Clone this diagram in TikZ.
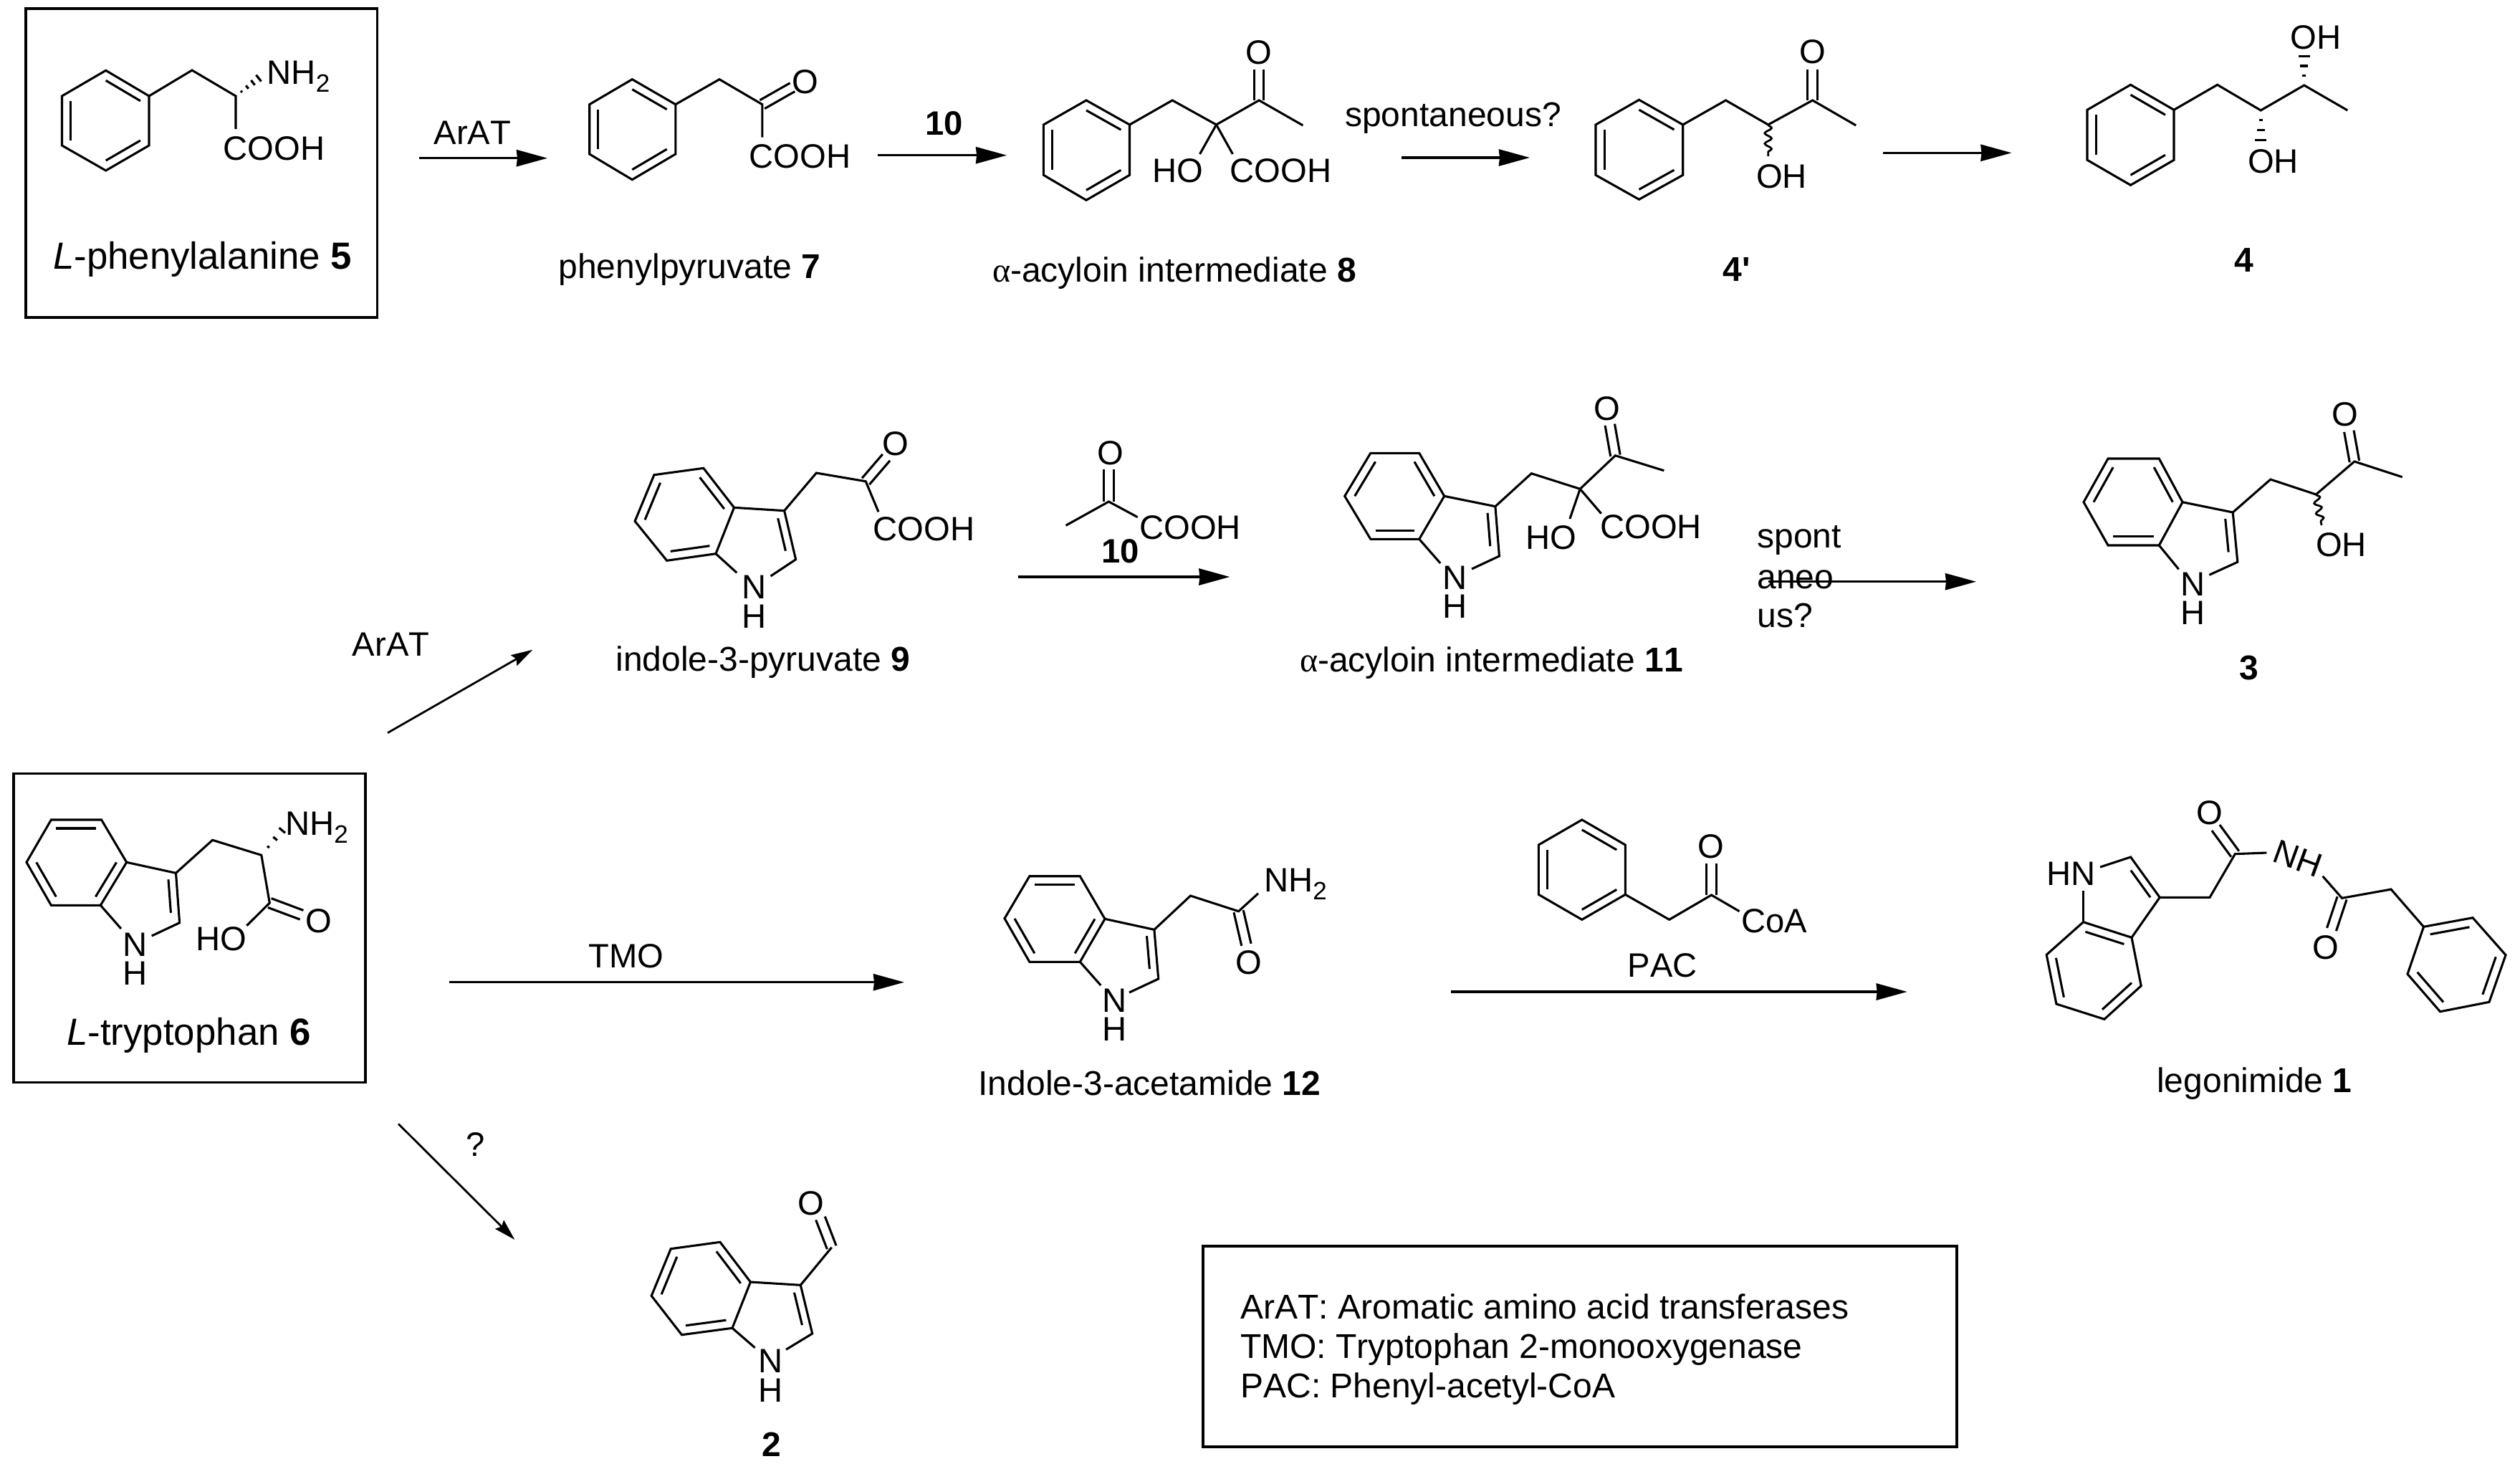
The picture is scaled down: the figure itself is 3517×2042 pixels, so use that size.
\documentclass[tikz,border=0pt]{standalone}
\usepackage{fontspec}
\setmainfont{Liberation Sans}[Ligatures=TeXOff,Kerning=Off]
\newfontfamily\grk{Liberation Serif}
\usetikzlibrary{arrows.meta,calc,decorations.pathmorphing}
\tikzset{
  bond/.style={line width=1.55pt,line join=miter,line cap=butt},
  hashtick/.style={line width=1.6pt},
  wavy/.style={line width=1.4pt,decorate,decoration={snake,segment length=7.3pt,amplitude=2.4pt}},
  framebox/.style={line width=1.6pt},
  rxn/.style={line width=1.7pt,-{Stealth[length=21.5pt,width=11.5pt,inset=.5pt]}},
  rxnthin/.style={line width=1.4pt,-{Stealth[length=15pt,width=8.5pt,inset=2pt]}},
  txt/.style={anchor=base west,inner sep=0pt,outer sep=0pt,xshift=-1.2pt,text=black},
  atom/.style={txt,font=\fontsize{23.6pt}{26pt}\selectfont},
  lab/.style={txt,yshift=-.75pt,font=\fontsize{24pt}{26pt}\selectfont},
  biglab/.style={txt,font=\fontsize{26.4pt}{28pt}\selectfont},
}
\newcommand{\tx}[4]{\node[#2] (#1) at (#3) {#4};}
\newcommand{\subtwo}{\raisebox{-5.5pt}{\fontsize{17.5pt}{18pt}\selectfont 2}}
\newcommand{\gra}{{\grk α}}
% double bond, symmetric
\newcommand{\dbond}[2]{%
  \draw[bond] ($(#1)!3.4pt!90:(#2)$) -- ($(#2)!3.4pt!-90:(#1)$);
  \draw[bond] ($(#1)!3.4pt!-90:(#2)$) -- ($(#2)!3.4pt!90:(#1)$);}
% inner ring line
\newcommand{\ringin}[3]{\draw[bond] ($(#1)!.2!(#3)$) -- ($(#2)!.2!(#3)$);}
% phenyl ring a..f with double bonds ab, cd, ef
\newcommand{\phenyl}[6]{%
  \coordinate (pa) at (#1);\coordinate (pb) at (#2);\coordinate (pc) at (#3);
  \coordinate (pd) at (#4);\coordinate (pe) at (#5);\coordinate (pf) at (#6);
  \coordinate (pm) at ($(pa)!.5!(pd)$);
  \draw[bond] (pa)--(pb)--(pc)--(pd)--(pe)--(pf)--cycle;
  \ringin{pa}{pb}{pm}\ringin{pc}{pd}{pm}\ringin{pe}{pf}{pm}}
% indole: benzene part
\newcommand{\indbenz}[6]{%
  \coordinate (i4) at (#1);\coordinate (i5) at (#2);\coordinate (i6) at (#3);
  \coordinate (i7) at (#4);\coordinate (i7a) at (#5);\coordinate (i3a) at (#6);
  \coordinate (im) at ($(i5)!.5!(i7a)$);
  \draw[bond] (i4)--(i5)--(i6)--(i7)--(i7a)--(i3a)--cycle;}
% indole: pyrrole part: C3, C2, stub from C2, stub from C7a
\newcommand{\indpyr}[4]{%
  \coordinate (i3) at (#1);\coordinate (i2) at (#2);
  \coordinate (iq) at ($(i3a)!.5!(i2)$);
  \draw[bond] (i3a)--(i3)--(i2)--(#3);
  \draw[bond] (i7a)--(#4);
  \draw[bond] ($(i3)!.33!(iq)$) -- ($(i2)!.33!(iq)$);}
\newcommand{\patA}{\ringin{i4}{i3a}{im}\ringin{i5}{i6}{im}\ringin{i7}{i7a}{im}}
\newcommand{\patB}{\ringin{i5}{i4}{im}\ringin{i6}{i7}{im}\ringin{i7a}{i3a}{im}}
% hashed bond
\newcommand{\hashbond}[4]{%
  \foreach \i in {1,...,#3}{%
    \pgfmathsetmacro\tt{\i/(#3+.5)}
    \pgfmathsetmacro\ww{#4*\tt}
    \coordinate (hh) at ($(#1)!\tt!(#2)$);
    \draw[hashtick] ($(hh)!\ww pt!90:(#2)$) -- ($(hh)!\ww pt!-90:(#2)$);}}
\begin{document}
\begin{tikzpicture}[x=.5pt,y=-.5pt]
\useasboundingbox (0,0) rectangle (3517,2042);
\fill[white] (0,0) rectangle (3517,2042);

%% ---------- frames
\draw[framebox] (36,12) rectangle (526.5,443);
\draw[framebox] (19,1079.3) rectangle (510,1510.7);
\draw[framebox] (1679,1739) rectangle (2731,2019);

%% ---------- L-phenylalanine 5
\phenyl{147.7,98.3}{208,134}{208,203}{147.7,238}{86.5,203}{86.5,134}
\draw[bond] (208,134)--(268,98)--(329,134)--(329,180);
\hashbond{329,134}{365,106}{4}{3.2}
\tx{nh5}{atom}{375,117}{NH\subtwo}
\tx{cooh5}{atom}{314,223}{COOH}
\tx{l5}{biglab}{76.5,375}{\textit{L}-phenylalanine \textbf{5}}

%% ---------- arrow ArAT
\coordinate (a1s) at (585,220.7);\coordinate (a1e) at (764,220.7);
\draw[rxn] (a1s)--(a1e);
\tx{arat1}{atom}{608,201.7}{ArAT}

%% ---------- phenylpyruvate 7
\phenyl{882.3,110.7}{942.8,145.7}{942.8,215}{882.3,250.7}{822.7,215}{822.7,145.7}
\draw[bond] (942.8,145.7)--(1004,110.7)--(1063.8,145.7)--(1063.8,191.7);
\dbond{1063.8,145.7}{1106,121.7}
\tx{o7}{atom}{1108,130}{O}
\tx{cooh7}{atom}{1048,234}{COOH}
\tx{l7}{lab}{782,386.7}{phenylpyruvate \textbf{7}}

%% ---------- arrow 10
\coordinate (a2s) at (1225.3,216.7);\coordinate (a2e) at (1405.1,216.7);
\draw[rxn] (a2s)--(a2e);
\tx{ten1}{atom}{1293.4,188.3}{\textbf{10}}

%% ---------- 8
\phenyl{1516,140}{1576.5,174}{1576.5,244.3}{1516,279.3}{1456.4,244.3}{1456.4,174}
\draw[bond] (1576.5,174)--(1636.2,140)--(1697.5,174)--(1757.1,140)--(1818.4,175);
\dbond{1757.1,140}{1757.1,96.7}
\draw[bond] (1697.5,174)--(1674.5,215);
\draw[bond] (1697.5,174)--(1720.4,215);
\tx{o8}{atom}{1741,89.3}{O}
\tx{ho8}{atom}{1611,254}{HO}
\tx{cooh8}{atom}{1718.9,254}{COOH}
\tx{l8}{lab}{1387.5,391.7}{\gra-acyloin intermediate \textbf{8}}

%% ---------- spontaneous arrow
\coordinate (a3s) at (1956,220);\coordinate (a3e) at (2135,220);
\draw[rxn] (a3s)--(a3e);
\tx{sp1}{lab}{1879.6,175}{spontaneous?}

%% ---------- 4'
\phenyl{2287.5,139.3}{2348.7,174}{2348.7,244.3}{2287.5,278.3}{2227,244.3}{2227,174}
\draw[bond] (2348.7,174)--(2408.5,140)--(2467.7,174)--(2529.7,140)--(2590.2,175);
\dbond{2529.7,140}{2529.7,96.7}
\draw[wavy] (2467.7,174)--(2467.7,218);
\tx{o4p}{atom}{2514,88.3}{O}
\tx{oh4p}{atom}{2453.4,262.7}{OH}
\tx{l4p}{lab}{2407,390.7}{\textbf{4'}}

\coordinate (a4s) at (2628,213.3);\coordinate (a4e) at (2807.5,213.3);
\draw[rxn] (a4s)--(a4e);

%% ---------- 4
\phenyl{2973.5,118.3}{3034,153.3}{3034,223.3}{2973.5,258.3}{2913,223.3}{2913,153.3}
\draw[bond] (3034,153.3)--(3094.6,118.3)--(3155.2,154)--(3215.7,119)--(3276.3,154);
\hashbond{3215.7,119}{3215.7,71.7}{3}{4.7}
\hashbond{3155.2,154}{3155.2,202}{3}{4.7}
\tx{oh4a}{atom}{3199.3,68.3}{OH}
\tx{oh4b}{atom}{3139.5,241.7}{OH}
\tx{l4}{lab}{3121,378.3}{\textbf{4}}

%% ---------- 9
\indbenz{981.8,653.3}{912.9,662.7}{886.1,727.3}{930.7,782.3}{999,772.7}{1024.5,708.3}
\patA
\indpyr{1094.6,712.7}{1110.6,780.7}{1075.5,804}{1028.3,799.3}
\draw[bond] (i3)--(1139.3,660)--(1208.2,671.7)--(1226,714.3);
\dbond{1208.2,671.7}{1236.9,638.3}
\tx{n9}{atom}{1038,835}{N}
\tx{h9}{atom}{1038,876}{H}
\tx{o9}{atom}{1233.7,635.7}{O}
\tx{cooh9}{atom}{1221,754}{COOH}
\tx{l9}{lab}{861.9,935}{indole-3-pyruvate \textbf{9}}

%% ---------- 10 (pyruvate) and arrow
\draw[bond] (1487.5,733.3)--(1547.4,700)--(1587.7,721.7);
\dbond{1547.4,700}{1547.4,655}
\tx{o10}{atom}{1533.4,648.3}{O}
\tx{cooh10}{atom}{1592.7,752.7}{COOH}
\tx{ten2}{atom}{1539.8,785}{\textbf{10}}
\coordinate (a5s) at (1420.5,805);\coordinate (a5e) at (1716.4,805);
\draw[rxn] (a5s)--(a5e);

%% ---------- 11
\indbenz{1980.7,632.3}{1912.8,632.3}{1876.7,692.3}{1912.8,752.3}{1980.7,752.3}{2015.7,692.3}
\patA
\indpyr{2086.9,706.7}{2092.4,776}{2054,794}{2010.2,786}
\draw[bond] (i3)--(2137.3,660.7)--(2205.2,682.3)--(2254.4,635.7)--(2322.3,656.7);
\dbond{2254.4,635.7}{2246.8,592.7}
\draw[bond] (2205.2,682.3)--(2190.9,724);
\draw[bond] (2205.2,682.3)--(2234.7,716.7);
\tx{n11}{atom}{2015.7,822.3}{N}
\tx{h11}{atom}{2015.7,862.7}{H}
\tx{o11}{atom}{2227,586}{O}
\tx{ho11}{atom}{2131.8,766.7}{HO}
\tx{cooh11}{atom}{2235.8,751.7}{COOH}
\tx{l11}{lab}{1816.4,936}{\gra-acyloin intermediate \textbf{11}}

%% ---------- spont / aneo / us? arrow
\tx{sp2}{lab}{2454.8,763.3}{spont}
\tx{sp3}{lab}{2454.8,820}{aneo}
\tx{sp4}{lab}{2454.8,874.3}{us?}
\coordinate (a6s) at (2468,811.7);\coordinate (a6e) at (2758,811.7);
\draw[rxn] (a6s)--(a6e);

%% ---------- 3
\indbenz{3013.3,640}{2942,640}{2908,700.7}{2942,761}{3013.3,761}{3046,700.7}
\patA
\indpyr{3116.2,715}{3122.8,784.3}{3083.3,802.3}{3040.6,794.3}
\draw[bond] (i3)--(3168.8,669)--(3232.3,690)--(3285.9,644)--(3352.7,665.7);
\dbond{3285.9,644}{3278.3,601.7}
\draw[wavy] (3232.3,690)--(3240,733);
\tx{n3}{atom}{3046,831}{N}
\tx{h3}{atom}{3046,871}{H}
\tx{o3}{atom}{3256.4,594.3}{O}
\tx{oh3}{atom}{3234.5,776.7}{OH}
\tx{l3}{lab}{3128,947}{\textbf{3}}

%% ---------- ArAT diagonal
\coordinate (a7s) at (541,1022.7);\coordinate (a7e) at (743.3,906.7);
\draw[rxnthin] (a7s)--(a7e);
\tx{arat2}{atom}{494.3,915}{ArAT}

%% ---------- L-tryptophan 6
\indbenz{141.6,1144}{71.4,1144}{37,1203.3}{71.4,1263.3}{140.3,1263.3}{176.7,1203.3}
\patB
\indpyr{245.5,1218.3}{250.6,1287.7}{211.7,1306}{169,1296}
\draw[bond] (i3)--(296.6,1172.3)--(364.8,1193.3)--(376.3,1260)--(344.4,1291.7);
\dbond{376.3,1260}{421,1276.7}
\hashbond{364.8,1193.3}{398.6,1153}{3}{3.2}
\tx{n6}{atom}{173.5,1334}{N}
\tx{h6}{atom}{173.5,1374}{H}
\tx{nh6}{atom}{400.5,1165}{NH\subtwo}
\tx{o6}{atom}{428.6,1301.7}{O}
\tx{ho6}{atom}{275.5,1326}{HO}
\tx{l6}{biglab}{95.7,1458.3}{\textit{L}-tryptophan \textbf{6}}

%% ---------- TMO arrow
\coordinate (a8s) at (627,1370.7);\coordinate (a8e) at (1262,1370.7);
\draw[rxn] (a8s)--(a8e);
\tx{tmo}{atom}{824,1350}{TMO}

%% ---------- 12
\indbenz{1507.3,1222.7}{1436.8,1222.7}{1402,1281.7}{1436.8,1342.3}{1507.3,1342.3}{1542,1282.3}
\patB
\indpyr{1610.9,1297.3}{1616.7,1366}{1576,1385}{1536.3,1375}
\draw[bond] (i3)--(1661.5,1250)--(1728.6,1271.7)--(1756,1246.7);
\dbond{1728.6,1271.7}{1739.4,1318.3}
\tx{n12}{atom}{1540.4,1412.3}{N}
\tx{h12}{atom}{1540.4,1452.7}{H}
\tx{nh12}{atom}{1766.7,1244}{NH\subtwo}
\tx{o12}{atom}{1727,1359.3}{O}
\tx{l12}{lab}{1368,1526.7}{Indole-3-acetamide \textbf{12}}

%% ---------- phenylacetyl-CoA and PAC arrow
\phenyl{2207.8,1144}{2268.3,1179}{2268.3,1248.3}{2207.8,1283.3}{2147.3,1248.3}{2147.3,1179}
\draw[bond] (2268.3,1248.3)--(2329.7,1283.3)--(2388.5,1249)--(2427.5,1271.7);
\dbond{2388.5,1249}{2388.5,1205}
\tx{oco}{atom}{2372,1197.3}{O}
\tx{coa}{atom}{2433,1301.7}{CoA}
\tx{pac}{atom}{2274,1363.3}{PAC}
\coordinate (a9s) at (2024.6,1384);\coordinate (a9e) at (2661.7,1384);
\draw[rxn] (a9s)--(a9e);

%% ---------- legonimide 1
\indbenz{2988.2,1375.7}{2936.9,1422.3}{2869.9,1401}{2856.2,1332.3}{2907.5,1286.7}{2975,1308.3}
\patB
\indpyr{3014.2,1252.3}{2973.6,1196}{2931,1210}{2907.5,1243.3}
\draw[bond] (i3)--(3084,1252.3)--(3119.3,1191.7)--(3163.4,1190);
\dbond{3119.3,1191.7}{3092.4,1155}
\draw[bond] (3241.6,1222.7)--(3268.5,1253.3)--(3337,1241)--(3382.5,1293.3);
\dbond{3268.5,1253.3}{3254,1297}
\phenyl{3382.5,1293.3}{3451,1280.7}{3497,1332.7}{3474,1398.3}{3405.5,1411.7}{3360,1359.3}
\tx{hn1}{atom}{2858.6,1235}{HN}
\tx{o1a}{atom}{3068,1150}{O}
\node[atom,rotate=-20] (nh1) at (3171.7,1201.7) {NH};
\tx{o1b}{atom}{3229.4,1338.3}{O}
\tx{l1}{lab}{3012.7,1522.7}{legonimide \textbf{1}}

%% ---------- ? arrow and 2
\coordinate (a10s) at (556,1568.3);\coordinate (a10e) at (718.4,1730);
\draw[rxnthin] (a10s)--(a10e);
\tx{qm}{atom}{653,1613.3}{?}
\indbenz{1005,1733.3}{936.2,1742.7}{909.2,1808.3}{951.5,1862.7}{1022,1853.3}{1047.4,1789}
\patA
\indpyr{1117.3,1793.3}{1133.7,1861}{1097,1883.3}{1053.6,1880.7}
\draw[bond] (i3)--(1160.7,1740.7);
\dbond{1160.7,1740.7}{1145,1700}
\tx{n2}{atom}{1061,1915.7}{N}
\tx{h2}{atom}{1061,1956}{H}
\tx{o2}{atom}{1115.8,1695}{O}
\tx{l2}{lab}{1066,2031}{\textbf{2}}

%% ---------- legend
\tx{leg1}{atom}{1733.7,1840}{\fontsize{24pt}{26pt}\selectfont ArAT:\hspace{7pt}Aromatic amino acid transferases}
\tx{leg2}{atom}{1733.7,1895}{\fontsize{24pt}{26pt}\selectfont TMO: Tryptophan 2-monooxygenase}
\tx{leg3}{atom}{1733.7,1950.7}{\fontsize{24pt}{26pt}\selectfont PAC: Phenyl-acetyl-CoA}
\end{tikzpicture}
\end{document}
